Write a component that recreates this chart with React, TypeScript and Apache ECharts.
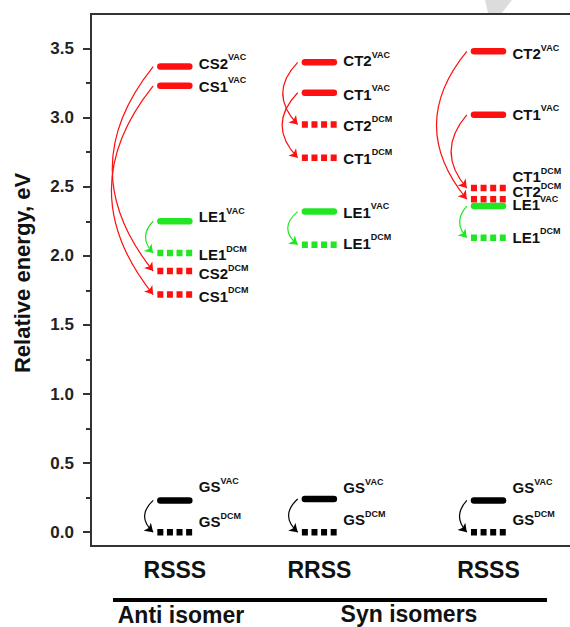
import React, { useEffect, useRef } from "react";
import * as echarts from "echarts";

const FONT = "'Liberation Sans', Arial, Helvetica, sans-serif";

// Columns (conformers) and their positions along the x scale
const columnNames = ["RSSS", "RRSS", "RSSS"];
const columnPos = [1, 2, 3.17];
const groupNames = ["Anti isomer", "Syn isomers"];

// Y axis ticks
const yLabelTicks = [0, 0.5, 1.0, 1.5, 2.0, 2.5, 3.0, 3.5];
const yMinorTicks = [0.25, 0.75, 1.25, 1.75, 2.25, 2.75, 3.25];

// Energy levels (eV), per column: state names, vacuum and DCM energies
const col1Names = ["CS2", "CS1", "LE1", "GS"];
const col1Vac = [3.37, 3.23, 2.25, 0.23];
const col1Dcm = [1.89, 1.72, 2.02, 0.0];

const col2Names = ["CT2", "CT1", "LE1", "GS"];
const col2Vac = [3.4, 3.18, 2.32, 0.24];
const col2Dcm = [2.95, 2.71, 2.08, 0.0];

const col3Names = ["CT2", "CT1", "LE1", "GS"];
const col3Vac = [3.48, 3.02, 2.36, 0.23];
const col3Dcm = [2.41, 2.49, 2.13, 0.0];

// label vertical nudges (px) to avoid overlaps, as in the figure
const labelDyVac = [[-5, -1, -6, -15], [-3, 0, -1, -13], [1, -2, -3, -14]];
const labelDyDcm = [[1, 0, 0, -12], [-1, -1, -3, -14], [-9, -13, -2, -14]];
// arrow curvature (style)
const arrowBend = [[-0.4, -0.4, -0.48, -0.54], [-0.48, -0.48, -0.6, -0.55], [-0.41, -0.43, -0.45, -0.46]];

const RED = "#ff1010";
const GREEN = "#22e622";
const BLACK = "#000000";

function colorOf(name: string) {
  if (name.startsWith("LE")) return GREEN;
  if (name.startsWith("GS")) return BLACK;
  return RED;
}

const allNames = [col1Names, col2Names, col3Names];
const allVac = [col1Vac, col2Vac, col3Vac];
const allDcm = [col1Dcm, col2Dcm, col3Dcm];

type Level = { x: number; y: number; name: string; phase: string; color: string; dy: number };

const levels: Level[] = [];
const arrows: any[] = [];
for (let c = 0; c < 3; c++) {
  for (let i = 0; i < allNames[c].length; i++) {
    const name = allNames[c][i];
    const color = colorOf(name);
    levels.push({ x: columnPos[c], y: allVac[c][i], name, phase: "VAC", color, dy: labelDyVac[c][i] });
    levels.push({ x: columnPos[c], y: allDcm[c][i], name, phase: "DCM", color, dy: labelDyDcm[c][i] });
    arrows.push({
      coords: [
        [columnPos[c] - 0.15, allVac[c][i]],
        [columnPos[c] - 0.15, allDcm[c][i]],
      ],
      lineStyle: { color, curveness: arrowBend[c][i] },
      itemStyle: { color },
    });
  }
}

export default function App() {
  const ref = useRef<HTMLDivElement>(null);
  useEffect(() => {
    if (!ref.current) return;
    const chart = echarts.init(ref.current, undefined, { renderer: "svg" });
    const option: any = {
      animation: false,
      backgroundColor: "#ffffff",
      grid: {
        left: 91,
        top: 14,
        bottom: 81,
        right: -24,
        outerBoundsMode: "none",
        containLabel: false,
        show: true,
        borderColor: "#333",
        borderWidth: 2,
        backgroundColor: "transparent",
      },
      xAxis: {
        type: "value",
        min: 0.42,
        max: 3.9,
        axisLine: { show: true, onZero: false, lineStyle: { color: "#333", width: 2 } },
        axisTick: { show: false },
        splitLine: { show: false },
        axisLabel: {
          customValues: columnPos,
          formatter: (v: number) => {
            let best = 0;
            for (let k = 1; k < columnPos.length; k++) {
              if (Math.abs(columnPos[k] - v) < Math.abs(columnPos[best] - v)) best = k;
            }
            return columnNames[best];
          },
          fontFamily: FONT,
          fontSize: 23,
          fontWeight: "bold",
          color: "#111",
          margin: 12,
        },
      },
      yAxis: [
        {
          type: "value",
          min: -0.1,
          max: 3.75,
          axisLine: { show: true, onZero: false, lineStyle: { color: "#333", width: 2 } },
          axisTick: { show: true, customValues: yLabelTicks, length: 8, lineStyle: { color: "#333", width: 2 } },
          axisLabel: {
            customValues: yLabelTicks,
            formatter: (v: number) => v.toFixed(1),
            fontFamily: FONT,
            fontSize: 17,
            fontWeight: "bold",
            color: "#222",
            margin: 17,
          },
          splitLine: { show: false },
        },
        {
          type: "value",
          min: -0.1,
          max: 3.75,
          position: "left",
          axisLine: { show: false, onZero: false },
          axisTick: { show: true, customValues: yMinorTicks, length: 5, lineStyle: { color: "#333", width: 2 } },
          axisLabel: { show: false },
          splitLine: { show: false },
        },
      ],
      series: [
        {
          type: "lines",
          coordinateSystem: "cartesian2d",
          symbol: ["none", "arrow"],
          symbolSize: 8,
          lineStyle: { width: 1.2, opacity: 1 },
          data: arrows,
          z: 3,
        },
        {
          type: "custom",
          coordinateSystem: "cartesian2d",
          data: levels.map((l) => [l.x, l.y]),
          z: 4,
          renderItem: (params: any, api: any) => {
            const lv = levels[params.dataIndex];
            const c = api.coord([lv.x, lv.y]);
            const dcm = lv.phase === "DCM";
            const x1 = dcm ? c[0] - 17.5 : c[0] - 14.5;
            const x2 = dcm ? c[0] + 17.5 : c[0] + 14.5;
            return {
              type: "group",
              children: [
                {
                  type: "line",
                  shape: { x1, y1: c[1], x2, y2: c[1] },
                  style: {
                    stroke: lv.color,
                    lineWidth: 6.5,
                    lineCap: dcm ? "butt" : "round",
                    lineDash: dcm ? [6, 3.6] : null,
                  },
                },
                {
                  type: "text",
                  x: c[0] + 24,
                  y: c[1] + lv.dy,
                  style: {
                    text: `{b|${lv.name}}{s|${lv.phase}}`,
                    align: "left",
                    verticalAlign: "middle",
                    rich: {
                      b: {
                        fontFamily: FONT,
                        fontSize: 15,
                        fontWeight: "bold",
                        fill: "#111",
                        lineHeight: 18,
                        verticalAlign: "bottom",
                      },
                      s: {
                        fontFamily: FONT,
                        fontSize: 9,
                        fontWeight: "bold",
                        fill: "#111",
                        lineHeight: 9,
                        verticalAlign: "top",
                      },
                    },
                  },
                },
              ],
            };
          },
        },
      ],
      graphic: [
        {
          type: "polygon",
          shape: { points: [[485, 0], [512, 0], [502, 13], [488, 13]] },
          style: { fill: "#dcdcdc" },
          z: 0,
        },
        {
          type: "text",
          x: 22,
          y: 273,
          rotation: Math.PI / 2,
          style: {
            text: "Relative energy, eV",
            fontFamily: FONT,
            fontSize: 22,
            fontWeight: "bold",
            fill: "#111",
            align: "center",
            verticalAlign: "middle",
          },
        },
        {
          type: "line",
          shape: { x1: 113, y1: 600, x2: 547, y2: 600 },
          style: { stroke: "#000", lineWidth: 4 },
        },
        {
          type: "text",
          x: 181,
          y: 615,
          style: {
            text: groupNames[0],
            fontFamily: FONT,
            fontSize: 23,
            fontWeight: "bold",
            fill: "#111",
            align: "center",
            verticalAlign: "middle",
          },
        },
        {
          type: "text",
          x: 409,
          y: 614,
          style: {
            text: groupNames[1],
            fontFamily: FONT,
            fontSize: 23,
            fontWeight: "bold",
            fill: "#111",
            align: "center",
            verticalAlign: "middle",
          },
        },
      ],
    };
    chart.setOption(option);
    return () => chart.dispose();
  }, []);
  return (
    <div
      ref={ref}
      style={{ position: "fixed", left: 0, top: 0, width: 570, height: 627, background: "#fff" }}
    />
  );
}
